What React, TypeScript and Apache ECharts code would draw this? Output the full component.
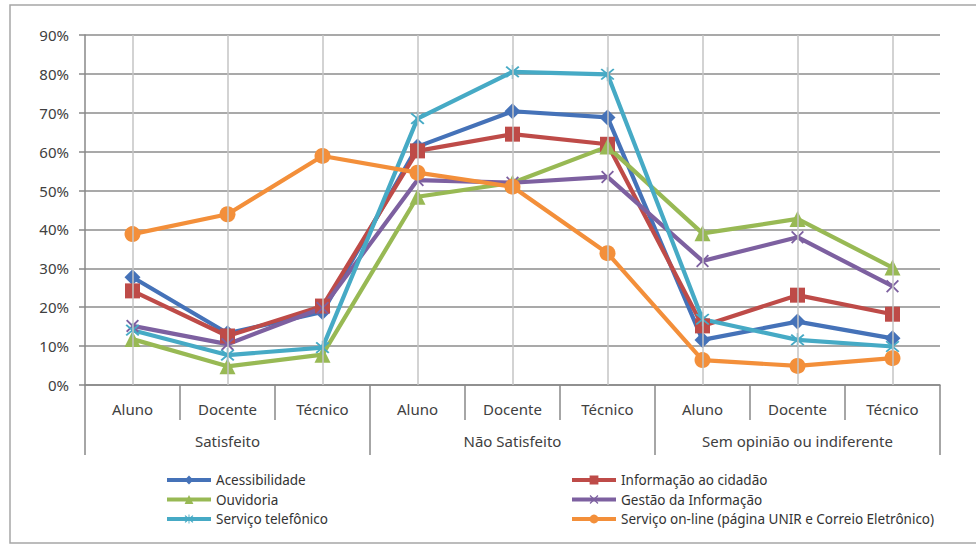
import React, { useEffect, useRef } from "react";
import * as echarts from "echarts";

const subCategories = ["Aluno", "Docente", "Técnico", "Aluno", "Docente", "Técnico", "Aluno", "Docente", "Técnico"];
const groups = ["Satisfeito", "Não Satisfeito", "Sem opinião ou indiferente"];
const yTicks = { min: 0, max: 90, interval: 10 };

const acessibilidade = [27.7, 13.3, 18.8, 61.3, 70.4, 68.8, 11.6, 16.3, 12.0];
const informacao = [24.2, 12.6, 20.3, 60.2, 64.5, 61.9, 15.2, 23.1, 18.2];
const ouvidoria = [11.8, 4.8, 7.8, 48.4, 52.0, 61.3, 39.0, 42.7, 30.2];
const gestao = [15.2, 10.5, 19.8, 52.7, 52.0, 53.5, 31.9, 38.0, 25.4];
const telefonico = [14.1, 7.7, 9.6, 68.5, 80.5, 79.9, 16.9, 11.6, 9.9];
const online = [38.8, 43.9, 58.9, 54.6, 51.0, 33.9, 6.4, 4.9, 6.9];

const names = [
  "Acessibilidade",
  "Informação ao cidadão",
  "Ouvidoria",
  "Gestão da Informação",
  "Serviço telefônico",
  "Serviço on-line (página UNIR e Correio Eletrônico)",
];

const xPath = "path://M0,2 L2,0 L10,8 L18,0 L20,2 L12,10 L20,18 L18,20 L10,12 L2,20 L0,18 L8,10 Z";
const starPath =
  "path://M0,2 L2,0 L10,8 L18,0 L20,2 L12,10 L20,18 L18,20 L10,12 L2,20 L0,18 L8,10 Z M9,-2 L11,-2 L11,22 L9,22 Z";

export default function App() {
  const ref = useRef<HTMLDivElement>(null);
  useEffect(() => {
    document.body.style.margin = "0";
    const chart = echarts.init(ref.current!, null, { renderer: "svg" });
    const font = "Noto Sans";
    const mk = (name: string, data: number[], color: string, symbol: string, size: number) => ({
      name,
      type: "line",
      data,
      symbol,
      symbolSize: size,
      itemStyle: { color },
      lineStyle: { color, width: 4.2 },
      z: 3,
    });
    const series: any[] = [
      {
        type: "line",
        data: subCategories.map(() => null),
        silent: true,
        z: 1,
        markLine: {
          silent: true,
          symbol: ["none", "none"],
          label: { show: false },
          lineStyle: { color: "#c4c4c4", width: 1.5, type: "solid" },
          data: subCategories.map((_, i) => ({ xAxis: i })),
        },
      },
      mk(names[0], acessibilidade, "#4572b8", "diamond", 16),
      mk(names[1], informacao, "#be4b48", "rect", 15),
      mk(names[2], ouvidoria, "#98b954", "triangle", 16),
      mk(names[3], gestao, "#7d60a0", xPath, 13),
      mk(names[4], telefonico, "#46aac5", starPath, 14),
      mk(names[5], online, "#f38f3a", "circle", 16),
    ];
    const legendBase = {
      orient: "vertical",
      itemWidth: 44,
      itemHeight: 11,
      itemGap: 5.5,
      padding: 0,
      lineStyle: { width: 4 },
      textStyle: { fontFamily: font, fontSize: 13.5, color: "#333", lineHeight: 14 },
      selectedMode: false,
    };
    chart.setOption({
      animation: false,
      textStyle: { fontFamily: font },
      graphic: [
        {
          type: "rect",
          shape: { x: 10, y: 5, width: 1000, height: 538 },
          style: { fill: "none", stroke: "#a6a6a6", lineWidth: 1.5 },
          z: -1,
        },
      ],
      grid: { left: 85, right: 36, top: 35, bottom: 161 },
      legend: [
        { ...legendBase, left: 165, top: 473, data: [names[0], names[2], names[4]] },
        { ...legendBase, left: 570, top: 473, data: [names[1], names[3], names[5]] },
      ],
      xAxis: [
        {
          type: "category",
          data: subCategories,
          boundaryGap: true,
          axisLine: { show: true, lineStyle: { color: "#888", width: 1.5 } },
          axisTick: { show: true, length: 35, lineStyle: { color: "#888", width: 1.5 } },
          axisLabel: { fontFamily: font, fontSize: 15, color: "#404040", margin: 16, interval: 0 },
          splitLine: { show: false },
        },
        {
          type: "category",
          data: groups,
          position: "bottom",
          offset: 35,
          boundaryGap: true,
          axisLine: { show: false },
          axisTick: { show: true, length: 35, lineStyle: { color: "#888", width: 1.5 } },
          axisLabel: { fontFamily: font, fontSize: 15, color: "#404040", margin: 13, interval: 0 },
          splitLine: { show: false },
        },
      ],
      yAxis: {
        type: "value",
        min: yTicks.min,
        max: yTicks.max,
        interval: yTicks.interval,
        axisLine: { show: true, lineStyle: { color: "#888", width: 1.5 } },
        axisTick: { show: true, length: 6, lineStyle: { color: "#888", width: 1.5 } },
        axisLabel: { fontFamily: font, fontSize: 15, color: "#404040", margin: 16, formatter: "{value}%" },
        splitLine: { show: true, lineStyle: { color: "#8c8c8c", width: 1.5 } },
      },
      series,
    });
    return () => chart.dispose();
  }, []);
  return <div ref={ref} style={{ width: 976, height: 546 }} />;
}
